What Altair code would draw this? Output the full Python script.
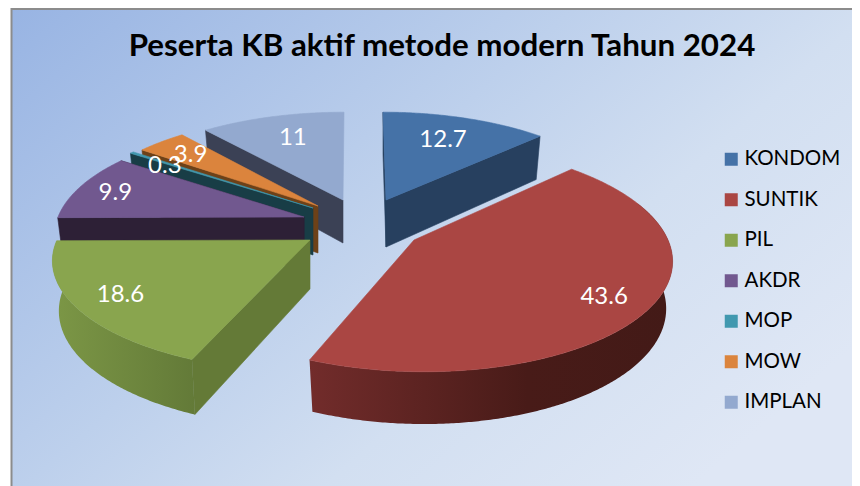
import math
import altair as alt
import pandas as pd

# ---- chart values
CATEGORIES = ["KONDOM", "SUNTIK", "PIL", "AKDR", "MOP", "MOW", "IMPLAN"]
VALUES = [12.7, 43.6, 18.6, 9.9, 0.3, 3.9, 11]
TOP_COLORS = ["#4572A7", "#AA4643", "#89A54E", "#71588F", "#4198AF", "#DB843D", "#93A9CF"]
SIDE_COLORS = ["#27405F", "#6F2B2A", "#647A37", "#2D2036", "#183D46", "#6D4118", "#3B4155"]
TITLE = "Peserta KB aktif metode modern Tahun 2024"

# ---- layout: 3D pie projection per slice
# apex x, apex y, radius x, radius y, perspective, depth, lean
SLICE = {
    "KONDOM": (386, 200, 241, 101, 0.15, 47, -3),
    "SUNTIK": (414, 240, 254, 112, 0.15, 46, -10),
    "PIL": (310, 240, 253, 107, 0.188, 49, 0),
    "AKDR": (304, 217, 246, 107, 0.17, 48, 0),
    "MOP": (313, 208, 243, 103, 0.15, 47, 0),
    "MOW": (318, 206, 238, 103, 0.15, 47, 0),
    "IMPLAN": (343, 200, 242, 101, 0.15, 43, 1),
}
LABEL_SHIFT = {
    "KONDOM": (3, -4), "SUNTIK": (42, 14), "PIL": (-43, 13), "AKDR": (-41, -4),
    "MOP": (-27, -5), "MOW": (-22, -8), "IMPLAN": (-2, -5),
}
DRAW_ORDER = ["IMPLAN", "MOW", "MOP", "AKDR", "KONDOM", "PIL", "SUNTIK"]
FONT = "Lato"
X_DOMAIN = [8, 852]
Y_DOMAIN = [486, 8]
X_SCALE = alt.Scale(domain=X_DOMAIN, nice=False, zero=False)
Y_SCALE = alt.Scale(domain=Y_DOMAIN, nice=False, zero=False)

total = sum(VALUES)
start = {}
end = {}
acc = 0.0
for c, v in zip(CATEGORIES, VALUES):
    start[c] = acc / total * 360
    acc += v
    end[c] = acc / total * 360


def top(c, deg, r=1.0):
    ax, ay, R, Ry, k, D, lean = SLICE[c]
    t = math.radians(deg)
    x, z = r * math.sin(t), r * math.cos(t)
    s = 1 / (1 + k * z)
    return ax + R * x * s + lean * z, ay - Ry * z * s


def bottom(c, deg, r=1.0):
    ax, ay, R, Ry, k, D, lean = SLICE[c]
    t = math.radians(deg)
    x, z = r * math.sin(t), r * math.cos(t)
    s = 1 / (1 + k * z)
    return ax + 0.975 * R * x * s + lean * z, ay - Ry * z * s + D / (1 + 0.12 * z)


def arc(fn, c, a, b):
    n = max(2, int(abs(b - a) * 2))
    return [fn(c, a + (b - a) * i / n) for i in range(n + 1)]


def layer_poly(pts, fill, stroke=None):
    df = pd.DataFrame({"x": [p[0] for p in pts], "y": [p[1] for p in pts], "i": range(len(pts))})
    stroke = stroke or (fill if isinstance(fill, str) else "#000000")
    kw = dict(strokeWidth=0.6, stroke=stroke) if isinstance(fill, str) else dict(strokeWidth=0, stroke=stroke)
    return alt.Chart(df).mark_line(fill=fill, interpolate="linear-closed", **kw).encode(
        x=alt.X("x:Q", scale=X_SCALE, axis=None),
        y=alt.Y("y:Q", scale=Y_SCALE, axis=None),
        order=alt.Order("i:Q"),
    )


def grad(*stops):
    return alt.Gradient(gradient="linear", x1=0, x2=1, y1=0, y2=0,
                        stops=[alt.GradientStop(color=col, offset=off) for off, col in stops])


def side(c, deg):
    ax, ay, *_ = SLICE[c]
    D = SLICE[c][5]
    return [(ax, ay), top(c, deg), bottom(c, deg), (ax, ay + D)]


layers = []
bg = alt.Chart(pd.DataFrame({"a": [0]})).mark_rect(
    fill=alt.Gradient(gradient="linear", x1=0, y1=0, x2=1, y2=0.65, stops=[
        alt.GradientStop(color="#98B4E3", offset=0),
        alt.GradientStop(color="#BDD0EC", offset=0.457),
        alt.GradientStop(color="#D2DFF1", offset=0.70),
        alt.GradientStop(color="#DFE7F5", offset=1),
    ]),
    stroke="#8C8C8C", strokeWidth=2,
).encode(x=alt.value(3.5), x2=alt.value(870), y=alt.value(1), y2=alt.value(490))
layers.append(bg)

for c in DRAW_ORDER:
    idx = CATEGORIES.index(c)
    col, dark = TOP_COLORS[idx], SIDE_COLORS[idx]
    a, b = start[c], end[c]
    if c == "SUNTIK":
        rim = arc(top, c, 70, b) + arc(bottom, c, 70, b)[::-1]
        layers.append(layer_poly(rim, grad((0, "#722C2B"), (0.6, "#481B18"), (1, "#431A17"))))
    elif c == "PIL":
        rim = arc(top, c, a, b) + arc(bottom, c, a, b)[::-1]
        layers.append(layer_poly(rim, grad((0, "#7C9746"), (1, "#637A38"))))
        layers.append(layer_poly(side(c, a), dark))
    elif c == "KONDOM":
        layers.append(layer_poly(side(c, a), dark))
        layers.append(layer_poly(side(c, b), dark))
    elif c == "AKDR":
        layers.append(layer_poly(side(c, b), dark))
        layers.append(layer_poly(side(c, a), dark))
    else:
        layers.append(layer_poly(side(c, a), dark))
    layers.append(layer_poly([(SLICE[c][0], SLICE[c][1])] + arc(top, c, a, b), col))

rows = []
for c, v in zip(CATEGORIES, VALUES):
    px, py = top(c, (start[c] + end[c]) / 2, 0.65)
    dx, dy = LABEL_SHIFT[c]
    rows.append({"x": px + dx, "y": py + dy, "label": f"{v:g}", "cat": c})
labels = alt.Chart(pd.DataFrame(rows)).mark_text(
    font=FONT, fontSize=24, color="white", align="center", baseline="middle"
).encode(
    x=alt.X("x:Q", scale=X_SCALE, axis=None),
    y=alt.Y("y:Q", scale=Y_SCALE, axis=None),
    text="label:N",
)
layers.append(labels)

title_layer = alt.Chart(pd.DataFrame({"t": [TITLE]})).mark_text(
    font=FONT, fontSize=31.3, fontWeight="bold", color="#000000", align="center", baseline="middle"
).encode(x=alt.value(434), y=alt.value(39), text="t:N")
layers.append(title_layer)

legend_layer = alt.Chart(pd.DataFrame({"cat": CATEGORIES})).mark_square(size=1).encode(
    x=alt.value(-50), y=alt.value(-50),
    color=alt.Color("cat:N", scale=alt.Scale(domain=CATEGORIES, range=TOP_COLORS), legend=alt.Legend(
        title=None, orient="none", legendX=713, legendY=141, symbolType="square", symbolSize=169,
        symbolStrokeWidth=0, symbolOpacity=1, labelFont=FONT, labelFontSize=20.5, labelColor="#000000",
        rowPadding=19.5, labelOffset=3, padding=0, values=CATEGORIES,
    )),
)
layers.append(legend_layer)

chart = alt.layer(*layers).properties(
    width=844, height=478, padding=0,
    autosize=alt.AutoSizeParams(type="none"),
    background="#FFFFFF",
).configure_view(stroke=None)

chart.save("out.html", embed_options={"renderer": "svg", "actions": False})
